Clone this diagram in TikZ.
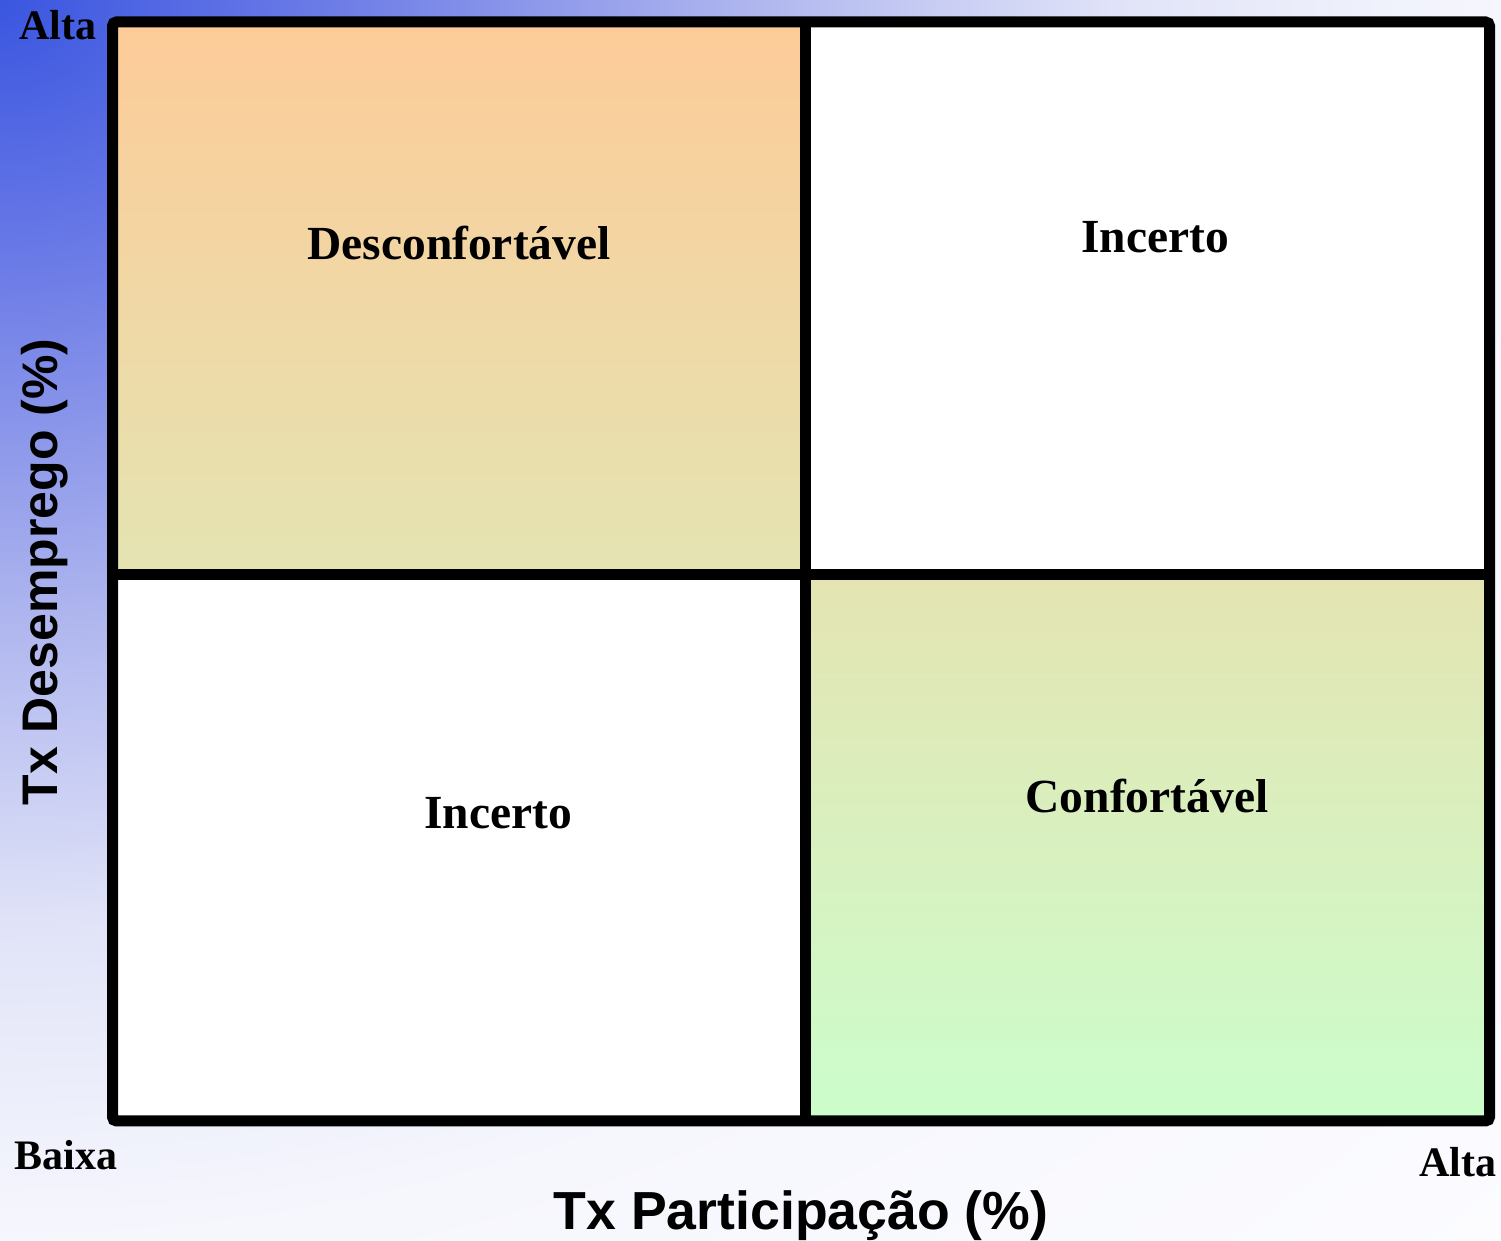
\documentclass[tikz,border=0pt]{standalone}
\usepackage{fontspec}
\setmainfont{Liberation Serif}
\newfontfamily\axisfont{Liberation Sans}
\definecolor{bgA}{RGB}{58,86,224}
\definecolor{bgB}{RGB}{104,120,230}
\definecolor{bgC}{RGB}{175,182,238}
\definecolor{bgD}{RGB}{225,228,248}
\definecolor{bgE}{RGB}{246,247,253}
\definecolor{bgF}{RGB}{252,252,255}
\definecolor{peach}{RGB}{253,203,152}
\definecolor{midc}{RGB}{228,228,178}
\definecolor{greenc}{RGB}{204,253,204}
\pgfdeclareradialshading{bgshade}{\pgfpoint{0bp}{0bp}}{color(0bp)=(bgA); color(14.1bp)=(bgB); color(35.2bp)=(bgC); color(52.8bp)=(bgD); color(70.4bp)=(bgE); color(100bp)=(bgF)}
\tikzset{
  quadlabel/.style={font=\fontsize{23.75}{28}\selectfont\bfseries, anchor=base, inner sep=0pt},
  cornerlabel/.style={font=\fontsize{21}{25}\selectfont\bfseries, anchor=base, inner sep=0pt},
  axislabel/.style={font=\axisfont\fontsize{26.8}{30}\selectfont\bfseries, anchor=base, inner sep=0pt},
  frameline/.style={line width=5.5pt, draw=black},
}
\begin{document}
\begin{tikzpicture}[x=0.5pt,y=0.5pt]
\useasboundingbox (0,0) rectangle (1501,1241);
\begin{scope}
  \clip (0,0) rectangle (1501,1241);
  \node[inner sep=0pt, outer sep=0pt, xscale=10.62, yscale=8.78] (bg) at (0,1241) {\pgfuseshading{bgshade}};
\end{scope}
% frame coordinates
\coordinate (TL) at (112.5,1219);
\coordinate (TR) at (1489.5,1219);
\coordinate (BL) at (112.5,120);
\coordinate (BR) at (1489.5,120);
\coordinate (TM) at (805,1219);
\coordinate (BM) at (805,120);
\coordinate (LM) at (112.5,666);
\coordinate (RM) at (1489.5,666);
\coordinate (CC) at (805,666);
% cells
\shade[top color=peach, bottom color=midc] (LM) rectangle (TM);
\fill[white] (CC) rectangle (TR);
\fill[white] (BL) rectangle (CC);
\shade[top color=midc, bottom color=greenc] (BM) rectangle (RM);
% frame
\draw[frameline, rounded corners=2pt] (BL) rectangle (TR);
\draw[frameline] (TM) -- (BM);
\draw[frameline] (LM) -- (RM);
% quadrant labels
\node[quadlabel] (desc) at (459,981) {Desconfortável};
\node[quadlabel] (inc1) at (1155,988) {Incerto};
\node[quadlabel] (inc2) at (498,412) {Incerto};
\node[quadlabel] (conf) at (1147,428) {Confortável};
% corner labels
\node[cornerlabel] (altay) at (58,1201) {Alta};
\node[cornerlabel] (baixa) at (66,71) {Baixa};
\node[cornerlabel] (altax) at (1458,64) {Alta};
% axis labels
\node[axislabel] (xlab) at (801,11) {Tx Participação (\%)};
\node[axislabel, rotate=90, font=\axisfont\fontsize{25}{30}\selectfont\bfseries] (ylab) at (57,669) {Tx Desemprego (\%)};
\end{tikzpicture}
\end{document}
